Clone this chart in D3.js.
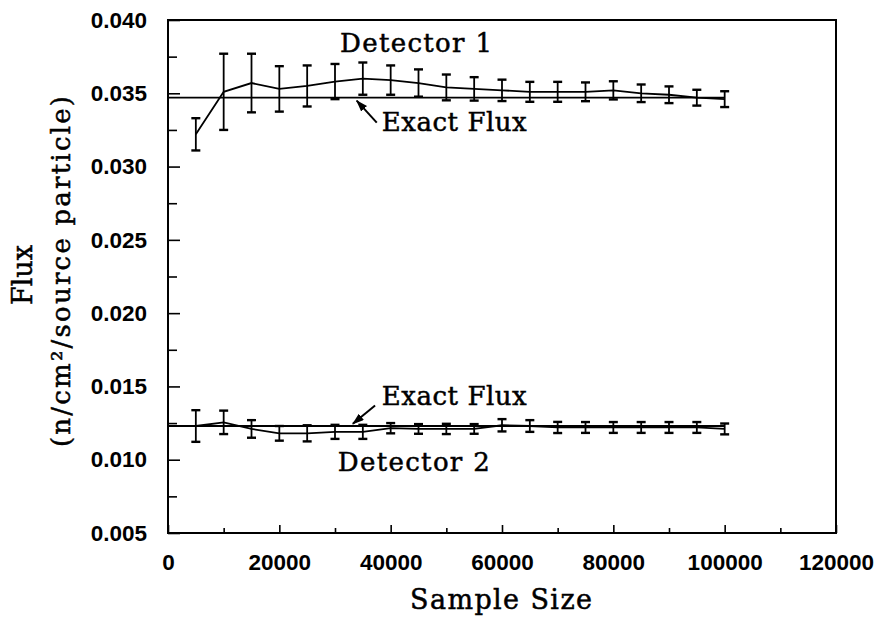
<!DOCTYPE html>
<html>
<head>
<meta charset="utf-8">
<script src="https://cdn.jsdelivr.net/npm/d3@7"></script>
<style>
  body { margin: 0; background: #fff; }
  .tick text { font-family: "Liberation Sans", Arial, sans-serif; font-weight: bold; font-size: 22.5px; fill: #000; }
  .lbl { font-family: "DejaVu Serif", "Liberation Serif", serif; fill: #000; stroke: #000; stroke-width: 0.5px; }
</style>
</head>
<body>
<div id="chart"></div>
<script>
// sample sizes (x) of both detectors
const sampleSizes = [5000, 10000, 15000, 20000, 25000, 30000, 35000, 40000, 45000, 50000,
  55000, 60000, 65000, 70000, 75000, 80000, 85000, 90000, 95000, 100000];

// detector 1 flux and error
const det1Flux = [0.0322, 0.0351, 0.0357, 0.0353, 0.0355, 0.0358, 0.0360, 0.0359, 0.0357, 0.0354,
  0.0353, 0.0352, 0.0351, 0.0351, 0.0351, 0.0352, 0.0350, 0.0349, 0.0347, 0.0346];
const det1Err = [0.0011, 0.0026, 0.0020, 0.00155, 0.0014, 0.0012, 0.0011, 0.0010, 0.00093, 0.00088,
  0.0008, 0.00073, 0.00068, 0.00068, 0.00064, 0.00062, 0.0006, 0.00057, 0.00054, 0.00054];

// detector 2 flux and error
const det2Flux = [0.0123, 0.01255, 0.0121, 0.0118, 0.0118, 0.0119, 0.0119, 0.01215, 0.0121, 0.0121,
  0.0121, 0.01235, 0.0123, 0.0122, 0.0122, 0.0122, 0.0122, 0.0122, 0.0122, 0.0121];
const det2Err = [0.00108, 0.0008, 0.0006, 0.0005, 0.00055, 0.00048, 0.00048, 0.00035, 0.00033, 0.00035,
  0.00033, 0.00042, 0.0004, 0.00038, 0.00037, 0.00037, 0.00037, 0.00037, 0.00037, 0.00037];

// exact flux at each detector
const exactFlux = [0.0347, 0.0123];

const xTicks = [0, 20000, 40000, 60000, 80000, 100000, 120000];
const xMinor = [10000, 30000, 50000, 70000, 90000, 110000];
const yTicks = [0.005, 0.010, 0.015, 0.020, 0.025, 0.030, 0.035, 0.040];
const yMinor = [0.0075, 0.0125, 0.0175, 0.0225, 0.0275, 0.0325, 0.0375];

const width = 875;
const height = 617;
const plotLeft = 168, plotRight = 836, plotTop = 20, plotBottom = 533;

const svg = d3.select('#chart').append('svg')
  .attr('width', width)
  .attr('height', height);

const xScale = d3.scaleLinear().domain([0, 120000]).range([plotLeft, plotRight]);
const yScale = d3.scaleLinear().domain([0.005, 0.040]).range([plotBottom, plotTop]);

// minor ticks first, no labels
svg.append('g')
  .attr('transform', 'translate(0,' + plotBottom + ')')
  .call(d3.axisBottom(xScale).tickValues(xMinor).tickSize(-5).tickSizeOuter(0).tickFormat(''))
  .call(g => g.select('.domain').remove());
svg.append('g')
  .attr('transform', 'translate(' + plotLeft + ',0)')
  .call(d3.axisLeft(yScale).tickValues(yMinor).tickSize(-9).tickSizeOuter(0).tickFormat(''))
  .call(g => g.select('.domain').remove());

const xAxis = svg.append('g')
  .attr('transform', 'translate(0,' + plotBottom + ')')
  .call(d3.axisBottom(xScale).tickValues(xTicks).tickSize(-8).tickSizeOuter(0)
    .tickPadding(21).tickFormat(d3.format('d')));
xAxis.select('.domain').remove();

const yAxis = svg.append('g')
  .attr('transform', 'translate(' + plotLeft + ',0)')
  .call(d3.axisLeft(yScale).tickValues(yTicks).tickSize(-12).tickSizeOuter(0)
    .tickPadding(21).tickFormat(d3.format('.3f')));
yAxis.select('.domain').remove();

svg.selectAll('.tick line').attr('stroke', '#000').attr('stroke-width', 1.6);

// frame
svg.append('rect')
  .attr('x', plotLeft).attr('y', plotTop)
  .attr('width', plotRight - plotLeft).attr('height', plotBottom - plotTop)
  .attr('fill', 'none').attr('stroke', '#000').attr('stroke-width', 2);

// exact flux lines, from 0 to last sample size
exactFlux.forEach(v => {
  svg.append('line')
    .attr('x1', xScale(0)).attr('x2', xScale(d3.max(sampleSizes)))
    .attr('y1', yScale(v)).attr('y2', yScale(v))
    .attr('stroke', '#000').attr('stroke-width', 1.8);
});

const line = d3.line()
  .x(d => xScale(d[0]))
  .y(d => yScale(d[1]));

const drawDetector = (flux, err) => {
  const pts = sampleSizes.map((s, i) => [s, flux[i], err[i]]);
  svg.append('path')
    .datum(pts)
    .attr('d', line)
    .attr('fill', 'none')
    .attr('stroke', '#000')
    .attr('stroke-width', 1.8);

  const bars = svg.append('g').selectAll('g')
    .data(pts)
    .enter()
    .append('g')
    .attr('stroke', '#000')
    .attr('stroke-width', 1.8);
  bars.append('line')
    .attr('x1', d => xScale(d[0])).attr('x2', d => xScale(d[0]))
    .attr('y1', d => yScale(d[1] - d[2])).attr('y2', d => yScale(d[1] + d[2]));
  bars.append('line')
    .attr('x1', d => xScale(d[0]) - 4.5).attr('x2', d => xScale(d[0]) + 4.5)
    .attr('y1', d => yScale(d[1] + d[2])).attr('y2', d => yScale(d[1] + d[2]))
    .attr('stroke-width', 2.4);
  bars.append('line')
    .attr('x1', d => xScale(d[0]) - 4.5).attr('x2', d => xScale(d[0]) + 4.5)
    .attr('y1', d => yScale(d[1] - d[2])).attr('y2', d => yScale(d[1] - d[2]))
    .attr('stroke-width', 2.4);
};

drawDetector(det1Flux, det1Err);
drawDetector(det2Flux, det2Err);

// arrow marker
svg.append('defs').append('marker')
  .attr('id', 'arrow')
  .attr('viewBox', '0 0 12 8')
  .attr('refX', 11).attr('refY', 4)
  .attr('markerWidth', 6).attr('markerHeight', 4)
  .attr('markerUnits', 'strokeWidth')
  .attr('orient', 'auto')
  .append('path')
  .attr('d', 'M0,0L12,4L0,8z')
  .attr('fill', '#000');

// annotations in data coordinates, with their text widths
const labels = [
  { text: 'Detector 1', x: 30900, y: 0.0378, w: 152 },
  { text: 'Exact Flux', x: 38400, y: 0.0324, w: 145 },
  { text: 'Exact Flux', x: 38400, y: 0.0137, w: 145 },
  { text: 'Detector 2', x: 30500, y: 0.0092, w: 152 }
];
svg.selectAll('.ann')
  .data(labels)
  .enter()
  .append('text')
  .attr('class', 'lbl ann')
  .attr('x', d => xScale(d.x))
  .attr('y', d => yScale(d.y))
  .attr('textLength', d => d.w)
  .attr('lengthAdjust', 'spacing')
  .style('font-size', '26px')
  .text(d => d.text);

const arrows = [
  { x1: 37500, y1: 0.0330, x2: 33900, y2: 0.0345 },
  { x1: 37200, y1: 0.0137, x2: 33200, y2: 0.01245 }
];
svg.selectAll('.arr')
  .data(arrows)
  .enter()
  .append('line')
  .attr('x1', d => xScale(d.x1)).attr('y1', d => yScale(d.y1))
  .attr('x2', d => xScale(d.x2)).attr('y2', d => yScale(d.y2))
  .attr('stroke', '#000').attr('stroke-width', 2)
  .attr('marker-end', 'url(#arrow)');

// axis titles
svg.append('text')
  .attr('class', 'lbl')
  .attr('x', 410)
  .attr('y', 609)
  .attr('textLength', 182)
  .attr('lengthAdjust', 'spacing')
  .style('font-size', '27px')
  .text('Sample Size');

svg.append('text')
  .attr('class', 'lbl')
  .attr('transform', 'translate(32,305) rotate(-90)')
  .attr('textLength', 60)
  .attr('lengthAdjust', 'spacing')
  .style('font-size', '27px')
  .text('Flux');

svg.append('text')
  .attr('class', 'lbl')
  .attr('transform', 'translate(70,447) rotate(-90)')
  .attr('textLength', 351)
  .attr('lengthAdjust', 'spacing')
  .style('font-size', '26px')
  .text('(n/cm²/source particle)');
</script>
</body>
</html>
